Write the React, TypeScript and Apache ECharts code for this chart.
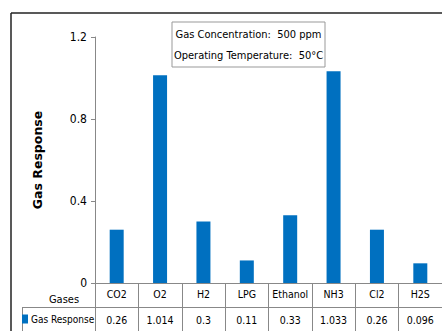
import React, { useEffect, useRef } from "react";
import * as echarts from "echarts";

const gases = ["CO2", "O2", "H2", "LPG", "Ethanol", "NH3", "Cl2", "H2S"];
const responses = [0.26, 1.014, 0.3, 0.11, 0.33, 1.033, 0.26, 0.096];
const responseLabels = ["0.26", "1.014", "0.3", "0.11", "0.33", "1.033", "0.26", "0.096"];
const seriesName = "Gas Response";
const noteLines = ["Gas Concentration:  500 ppm", "Operating Temperature:  50°C"];

const FONT = '"DejaVu Sans Condensed", "Liberation Sans Narrow", "Liberation Sans", sans-serif';

export default function App() {
  const ref = useRef<HTMLDivElement>(null);
  useEffect(() => {
    if (!ref.current) return;
    const chart = echarts.init(ref.current, undefined, { renderer: "svg" });
    chart.setOption({
      animation: false,
      textStyle: { fontFamily: FONT },
      grid: { left: 95, right: -8, top: 37, bottom: 48 },
      legend: {
        data: [seriesName],
        left: 22,
        top: 314,
        icon: "rect",
        itemWidth: 6,
        itemHeight: 9,
        itemGap: 4,
        padding: 0,
        textStyle: { fontFamily: FONT, fontSize: 10, color: "#000", padding: [0, 0, 0, -2] },
      },
      xAxis: [
        {
          type: "category",
          data: gases,
          axisLine: { show: true, lineStyle: { color: "#888", width: 1 } },
          axisTick: { show: true, length: 48, interval: 0, lineStyle: { color: "#888" } },
          axisLabel: { interval: 0, margin: 5, fontSize: 10.5, color: "#000", fontFamily: FONT },
        },
        {
          type: "category",
          data: gases,
          position: "bottom",
          offset: 24,
          axisLine: { show: true, lineStyle: { color: "#888", width: 1 } },
          axisTick: { show: false },
          axisLabel: {
            interval: 0,
            margin: 7,
            fontSize: 10.5,
            color: "#000",
            fontFamily: FONT,
            formatter: (_v: string, i: number) => responseLabels[i],
          },
        },
      ],
      yAxis: {
        type: "value",
        min: 0,
        max: 1.2,
        interval: 0.4,
        name: seriesName,
        nameLocation: "middle",
        nameGap: 51,
        nameTextStyle: { fontFamily: '"DejaVu Sans", sans-serif', fontWeight: "bold", fontSize: 12.5, color: "#000" },
        axisLine: { show: true, lineStyle: { color: "#888" } },
        axisTick: { show: true, length: 4, lineStyle: { color: "#888" } },
        splitLine: { show: false },
        axisLabel: {
          margin: 8,
          fontSize: 12,
          color: "#000",
          fontFamily: FONT,
          formatter: (v: number) => (v === 0 ? "0" : v.toFixed(1)),
        },
      },
      series: [
        {
          name: seriesName,
          type: "bar",
          data: responses,
          barWidth: 14,
          itemStyle: { color: "#0070C0" },
        },
      ],
      graphic: [
        { type: "line", shape: { x1: 11, y1: 13, x2: 442, y2: 13 }, style: { stroke: "#222", lineWidth: 1.5 } },
        { type: "line", shape: { x1: 11, y1: 13, x2: 11, y2: 331 }, style: { stroke: "#222", lineWidth: 1.5 } },
        { type: "line", shape: { x1: 22, y1: 307.5, x2: 95, y2: 307.5 }, style: { stroke: "#888", lineWidth: 1 } },
        { type: "line", shape: { x1: 22.5, y1: 307, x2: 22.5, y2: 331 }, style: { stroke: "#888", lineWidth: 1 } },
        {
          type: "text",
          x: 64,
          y: 299,
          style: { text: "Gases", fill: "#000", font: `11px ${FONT}`, textAlign: "center", textVerticalAlign: "middle" },
        },
        {
          type: "rect",
          shape: { x: 172, y: 22, width: 153, height: 45 },
          style: { fill: "#fff", stroke: "#999", lineWidth: 1 },
        },
        {
          type: "text",
          x: 248.5,
          y: 34,
          style: { text: noteLines[0], fill: "#000", font: `11px ${FONT}`, textAlign: "center", textVerticalAlign: "middle" },
        },
        {
          type: "text",
          x: 248.5,
          y: 55,
          style: { text: noteLines[1], fill: "#000", font: `11px ${FONT}`, textAlign: "center", textVerticalAlign: "middle" },
        },
      ],
    });
    return () => chart.dispose();
  }, []);
  return <div ref={ref} style={{ width: 442, height: 331, position: "absolute", left: 0, top: 0 }} />;
}
